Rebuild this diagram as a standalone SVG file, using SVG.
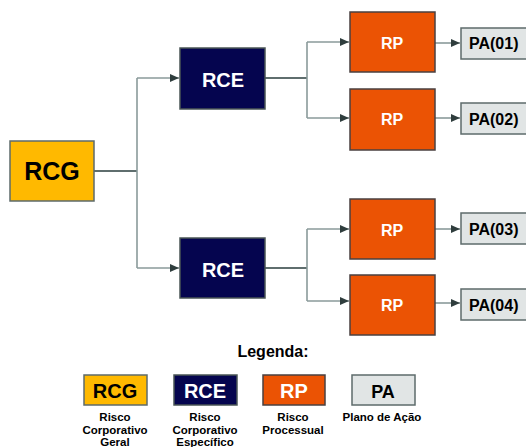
<svg xmlns="http://www.w3.org/2000/svg" width="526" height="447" viewBox="0 0 526 447">
<defs>
<marker id="arr" markerWidth="10" markerHeight="10" refX="9" refY="5" orient="auto" markerUnits="userSpaceOnUse">
<path d="M0,1 L9,5 L0,9 Z" fill="#2f3d3d"/>
</marker>
<style>
text{font-family:"Liberation Sans",Arial,sans-serif;font-weight:bold;}
.rcg{fill:#FFB900;stroke:#5d6b6b;stroke-width:1.5;}
.rce{fill:#05054F;stroke:#4a5555;stroke-width:1.5;}
.rp{fill:#EB5304;stroke:#4a4040;stroke-width:1.5;}
.pa{fill:#E1E5E5;stroke:#5d6b6b;stroke-width:1.5;}
.c{fill:none;stroke:#8a9a9a;stroke-width:1.6;}
.cd{fill:none;stroke:#5f6e6e;stroke-width:2;}
.tw{fill:#ffffff;text-anchor:middle;}
.tb{fill:#000000;text-anchor:middle;}
.pt{fill:#000000;font-size:16px;}
.lg{fill:#000000;text-anchor:middle;font-size:11.5px;}
</style>
</defs>
<g id="connectors">
<path class="cd" d="M94,171 H137"/>
<path class="c" d="M137,78 V268"/>
<path class="c" d="M137,78 H179" marker-end="url(#arr)"/>
<path class="c" d="M137,268 H179" marker-end="url(#arr)"/>
<path class="cd" d="M265,78 H307"/>
<path class="c" d="M307,42 V118"/>
<path class="c" d="M307,42 H349" marker-end="url(#arr)"/>
<path class="c" d="M307,118 H349" marker-end="url(#arr)"/>
<path class="cd" d="M265,268 H307"/>
<path class="c" d="M307,229 V301"/>
<path class="c" d="M307,229 H349" marker-end="url(#arr)"/>
<path class="c" d="M307,301 H349" marker-end="url(#arr)"/>
<path class="c" d="M435,43 H460" marker-end="url(#arr)"/>
<path class="c" d="M435,118 H460" marker-end="url(#arr)"/>
<path class="c" d="M435,229 H460" marker-end="url(#arr)"/>
<path class="c" d="M435,303 H460" marker-end="url(#arr)"/>
</g>
<g id="rcg"><rect class="rcg" x="10" y="141" width="84" height="60"/><text class="tb" x="52" y="180" font-size="25">RCG</text></g>
<g id="rce1"><rect class="rce" x="180" y="48" width="85" height="61"/><text class="tw" x="223" y="87" font-size="20">RCE</text></g>
<g id="rce2"><rect class="rce" x="180" y="238" width="85" height="60"/><text class="tw" x="223" y="277" font-size="20">RCE</text></g>
<g id="rp1"><rect class="rp" x="350" y="12" width="85" height="60"/><text class="tw" x="392" y="49" font-size="16">RP</text></g>
<g id="rp2"><rect class="rp" x="350" y="89" width="85" height="61"/><text class="tw" x="392" y="125" font-size="16">RP</text></g>
<g id="rp3"><rect class="rp" x="350" y="199" width="85" height="60"/><text class="tw" x="392" y="236" font-size="16">RP</text></g>
<g id="rp4"><rect class="rp" x="350" y="275" width="85" height="60"/><text class="tw" x="392" y="311" font-size="16">RP</text></g>
<g id="pa1"><rect class="pa" x="461" y="28" width="66" height="31"/><text class="pt" x="469" y="49">PA(01)</text></g>
<g id="pa2"><rect class="pa" x="461" y="103" width="66" height="31"/><text class="pt" x="469" y="125">PA(02)</text></g>
<g id="pa3"><rect class="pa" x="461" y="213" width="66" height="31"/><text class="pt" x="469" y="235">PA(03)</text></g>
<g id="pa4"><rect class="pa" x="461" y="289" width="66" height="31"/><text class="pt" x="469" y="311">PA(04)</text></g>
<g id="legend">
<text class="tb" x="273" y="357" font-size="16" fill="#222">Legenda:</text>
<rect class="rcg" x="84" y="375" width="63" height="30"/><text class="tb" x="115" y="398" font-size="20">RCG</text>
<rect class="rce" x="174" y="375" width="63" height="30"/><text class="tw" x="205" y="398" font-size="20">RCE</text>
<rect class="rp" x="263" y="375" width="62" height="30"/><text class="tw" x="294" y="398" font-size="20">RP</text>
<rect class="pa" x="352" y="375" width="63" height="30"/><text class="tb" x="383" y="398" font-size="18">PA</text>
<text class="lg" x="115" y="421">Risco</text><text class="lg" x="115" y="434">Corporativo</text><text class="lg" x="115" y="446">Geral</text>
<text class="lg" x="205" y="421">Risco</text><text class="lg" x="205" y="434">Corporativo</text><text class="lg" x="205" y="446">Específico</text>
<text class="lg" x="293" y="421">Risco</text><text class="lg" x="293" y="434">Processual</text>
<text class="lg" x="382" y="421">Plano de Ação</text>
</g>
</svg>
